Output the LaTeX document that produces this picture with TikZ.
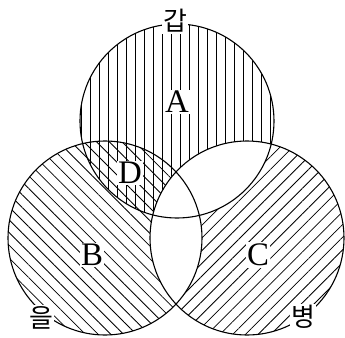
\documentclass[tikz,border=0pt]{standalone}
\usepackage{fontspec}
\newfontfamily\krfont{Noto Sans CJK KR}
\newfontfamily\lfont{Liberation Serif}
\usetikzlibrary{patterns.meta}
\begin{document}
\begin{tikzpicture}[x=1bp,y=-1bp,
  circ/.style={line width=1.1bp},
  hatchv/.style={pattern={Lines[angle=90,distance=9bp,line width=0.8bp]}},
  hatchb/.style={pattern={Lines[angle=-45,distance=9bp,line width=0.8bp]}},
  hatchc/.style={pattern={Lines[angle=45,distance=9bp,line width=0.8bp]}},
  lab/.style={font=\lfont\fontsize{33}{33}\selectfont, fill=white, inner sep=1.5bp},
  klab/.style={font=\krfont\fontsize{26}{26}\selectfont, fill=white, inner sep=1.5bp}]
\useasboundingbox (0,0) rectangle (345,338);
\coordinate (ca) at (177,121);
\coordinate (cb) at (105,238);
\coordinate (cc) at (247,238);
\def\rr{97}
% hatching
\fill[hatchv] (ca) circle (\rr);
\fill[hatchb] (cb) circle (\rr);
\fill[hatchc] (cc) circle (\rr);
% blank regions
\begin{scope}
  \clip (ca) circle (\rr);
  \fill[white] (cc) circle (\rr);
\end{scope}
\begin{scope}
  \clip (cb) circle (\rr);
  \fill[white] (cc) circle (\rr);
\end{scope}
% outlines
\draw[circ] (ca) circle (\rr);
\draw[circ] (cb) circle (\rr);
\draw[circ] (cc) circle (\rr);
% labels
\node[lab] (la) at (177,102) {A};
\node[lab] (ld) at (130,173) {D};
\node[lab] (lb) at (92,255) {B};
\node[lab] (lc) at (258,255) {C};
\node[klab] (kgap) at (175,21) {갑};
\node[klab] (keul) at (41,318) {을};
\node[klab] (kbyeong) at (303,317) {병};
\end{tikzpicture}
\end{document}
